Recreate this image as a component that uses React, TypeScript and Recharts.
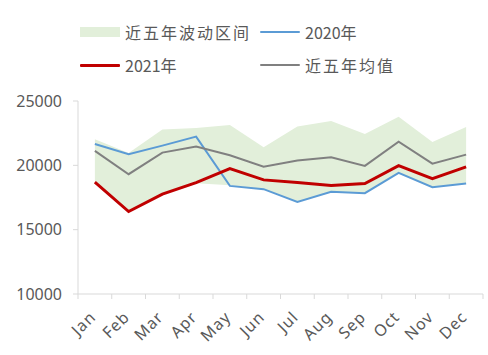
import { ComposedChart, Line, Area, XAxis, YAxis } from 'recharts';

const months = ['Jan', 'Feb', 'Mar', 'Apr', 'May', 'Jun', 'Jul', 'Aug', 'Sep', 'Oct', 'Nov', 'Dec'];
const y2021 = [18690, 16410, 17760, 18660, 19750, 18870, 18660, 18430, 18580, 19980, 18970, 19880];
const y2020 = [21660, 20860, 21530, 22230, 18400, 18150, 17160, 17940, 17840, 19410, 18300, 18580];
const avg5 = [21120, 19310, 20990, 21460, 20780, 19900, 20370, 20630, 19960, 21840, 20130, 20830];
const bandHigh = [22030, 20950, 22780, 22900, 23140, 21400, 23010, 23450, 22440, 23780, 21820, 22980];
const bandLow = [18690, 16410, 17760, 18600, 18450, 18150, 17160, 17940, 17840, 19410, 18300, 18580];
const yTicks = [10000, 15000, 20000, 25000];

const data = months.map((m, i) => ({
  x: i + 0.5,
  month: m,
  range: [bandLow[i], bandHigh[i]],
  y2020: y2020[i],
  y2021: y2021[i],
  avg: avg5[i],
}));

// boundaries (integers) get a tick line, centres (halves) get the month label
const xTicks = Array.from({ length: 25 }, (_, i) => i / 2);

const legendItems = [
  { name: '近五年波动区间', color: '#e2efda', box: true, w: 0, left: 80, top: 22 },
  { name: '2020年', color: '#5b9bd5', box: false, w: 2, left: 260, top: 22 },
  { name: '2021年', color: '#c00000', box: false, w: 3, left: 80, top: 55 },
  { name: '近五年均值', color: '#808080', box: false, w: 2, left: 260, top: 55 },
];

const textColor = '#595959';
const axisColor = '#d9d9d9';

const MonthTick = ({ x, y, payload }: any) => {
  const v = payload.value;
  if (Number.isInteger(v)) {
    return <line x1={x} y1={y} x2={x} y2={y + 5} stroke={axisColor} />;
  }
  const tx = x + 2;
  const ty = y + 24;
  return (
    <text
      x={tx}
      y={ty}
      textAnchor="end"
      transform={`rotate(-45, ${tx}, ${ty})`}
      fill={textColor}
      fontSize={16}
      fontFamily="Noto Sans"
      letterSpacing={1}
    >
      {months[Math.floor(v)]}
    </text>
  );
};

export default function App() {
  return (
    <div style={{ position: 'absolute', left: 0, top: 0, width: 488, height: 355, background: '#fff' }}>
      {legendItems.map(it => (
        <div
          key={it.name}
          style={{ position: 'absolute', left: it.left, top: it.top, height: 20, display: 'flex', alignItems: 'center' }}
        >
          <div
            style={{
              width: 40,
              height: it.box ? 10 : it.w,
              background: it.color,
              borderRadius: it.box ? 0 : 1,
              marginRight: 5,
            }}
          />
          <span
            style={{
              fontFamily: '"Noto Sans CJK SC", sans-serif',
              fontSize: 16,
              color: textColor,
              letterSpacing: /\d/.test(it.name) ? 0 : 2,
              whiteSpace: 'nowrap',
            }}
          >
            {it.name}
          </span>
        </div>
      ))}
      <ComposedChart width={488} height={355} data={data} margin={{ top: 101, right: 5, left: 0, bottom: 1 }}>
        <XAxis
          dataKey="x"
          type="number"
          domain={[0, 12]}
          ticks={xTicks}
          interval={0}
          tick={<MonthTick />}
          tickLine={false}
          tickSize={0}
          tickMargin={0}
          height={60}
          axisLine={{ stroke: axisColor }}
        />
        <YAxis
          domain={[10000, 25000]}
          ticks={yTicks}
          width={78}
          tickSize={5}
          tickMargin={11}
          axisLine={{ stroke: axisColor }}
          tickLine={{ stroke: axisColor }}
          tick={{ fill: textColor, fontSize: 16, fontFamily: 'Noto Sans' }}
        />
        <Area dataKey="range" fill="#e2efda" fillOpacity={1} stroke="none" isAnimationActive={false} />
        <Line dataKey="y2020" stroke="#5b9bd5" strokeWidth={2} dot={false} isAnimationActive={false} />
        <Line dataKey="avg" stroke="#808080" strokeWidth={2} dot={false} isAnimationActive={false} />
        <Line dataKey="y2021" stroke="#c00000" strokeWidth={3} dot={false} isAnimationActive={false} />
      </ComposedChart>
    </div>
  );
}
